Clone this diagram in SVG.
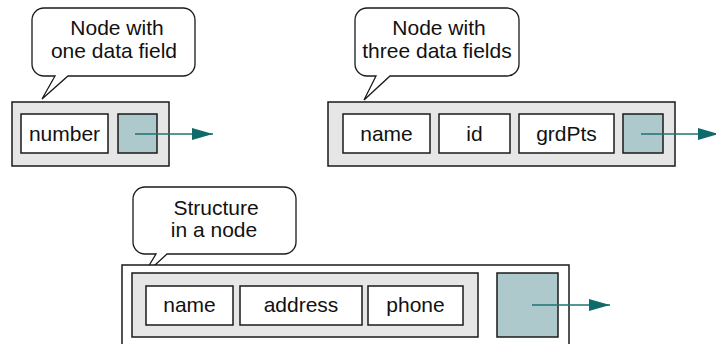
<svg xmlns="http://www.w3.org/2000/svg" width="716" height="344" viewBox="0 0 716 344">
<defs>
<style>
.bubble{fill:#fff;stroke:#1a1a1a;stroke-width:1.3;stroke-linejoin:miter}
.outer{fill:#e6e6e6;stroke:#1a1a1a;stroke-width:1.5}
.frame{fill:#fff;stroke:#1a1a1a;stroke-width:1.5}
.field{fill:#fff;stroke:#1a1a1a;stroke-width:1.5}
.ptr{fill:#adc9cb;stroke:#1a1a1a;stroke-width:1.5}
.link{stroke:#1e7373;stroke-width:1.5;fill:none}
text{font-family:"Liberation Sans",Arial,Helvetica,sans-serif;font-size:21px;fill:#111;text-anchor:middle}
</style>
<marker id="ah" markerWidth="21" markerHeight="12" refX="21" refY="6" orient="auto" markerUnits="userSpaceOnUse">
<path d="M0,0 L21,6 L0,12 Z" fill="#0f6a6a"/>
</marker>
</defs>
<rect width="716" height="344" fill="#fff"/>

<g id="callout1">
<path class="bubble" d="M44,8 H183 A12,12 0 0 1 195,20 V64 A12,12 0 0 1 183,76 H68 L42,99 L55,76 H44 A12,12 0 0 1 32,64 V20 A12,12 0 0 1 44,8 Z"/>
<text x="117" y="35">Node with</text>
<text x="114" y="58">one data field</text>
</g>

<g id="callout2">
<path class="bubble" d="M367,8 H507 A12,12 0 0 1 519,20 V64 A12,12 0 0 1 507,76 H390 L364,100 L376,76 H367 A12,12 0 0 1 355,64 V20 A12,12 0 0 1 367,8 Z"/>
<text x="439" y="35">Node with</text>
<text x="437" y="58">three data fields</text>
</g>

<g id="callout3">
<path class="bubble" d="M145,187 H284 A12,12 0 0 1 296,199 V242 A12,12 0 0 1 284,254 H167 L142,277 L156,254 H145 A12,12 0 0 1 133,242 V199 A12,12 0 0 1 145,187 Z"/>
<text x="216" y="215">Structure</text>
<text x="214" y="237">in a node</text>
</g>

<g id="node1">
<rect class="outer" x="12" y="102" width="157" height="64"/>
<rect class="field" x="21" y="114" width="87" height="39"/>
<text x="64.5" y="140.5">number</text>
<rect class="ptr" x="118" y="114" width="39" height="39"/>
</g>

<g id="node2">
<rect class="outer" x="328" y="102" width="347" height="64"/>
<rect class="field" x="343" y="114" width="87" height="39"/>
<text x="386.5" y="140.5">name</text>
<rect class="field" x="439" y="114" width="71" height="39"/>
<text x="474.5" y="140.5">id</text>
<rect class="field" x="519" y="114" width="95" height="39"/>
<text x="566.5" y="140.5">grdPts</text>
<rect class="ptr" x="623" y="114" width="40" height="39"/>
</g>

<g id="node3">
<rect class="frame" x="122" y="265" width="447" height="90"/>
<rect class="outer" x="132" y="273" width="346" height="64"/>
<rect class="field" x="146" y="286" width="87" height="39"/>
<text x="189.5" y="312">name</text>
<rect class="field" x="240" y="286" width="122" height="39"/>
<text x="301" y="312">address</text>
<rect class="field" x="368" y="286" width="95" height="39"/>
<text x="415.5" y="312">phone</text>
<rect class="ptr" x="497" y="273" width="61" height="64"/>
</g>

<g id="connectors">
<line class="link" x1="135" y1="134" x2="213" y2="134" marker-end="url(#ah)"/>
<line class="link" x1="641" y1="134" x2="719" y2="134" marker-end="url(#ah)"/>
<line class="link" x1="532" y1="305" x2="610" y2="305" marker-end="url(#ah)"/>
</g>
</svg>
